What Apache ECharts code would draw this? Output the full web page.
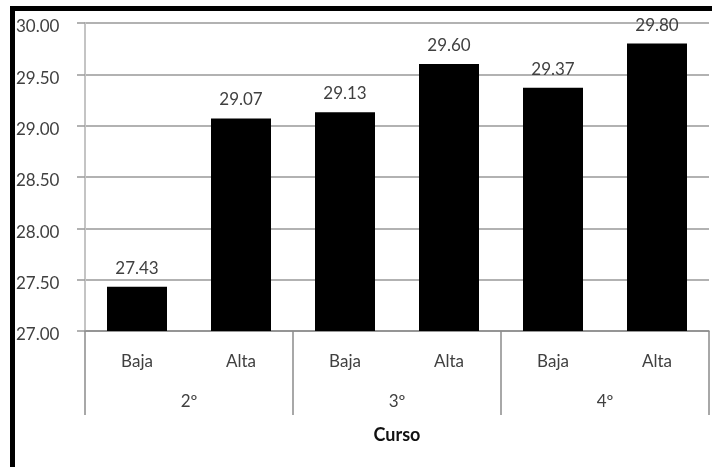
<!DOCTYPE html>
<html>
<head>
<meta charset="utf-8">
<script src="https://cdn.jsdelivr.net/npm/echarts@6/dist/echarts.min.js"></script>
<style>
  html, body { margin: 0; padding: 0; background: #fff; }
  #chart { width: 712px; height: 467px; }
</style>
</head>
<body>
<div id="chart"></div>
<script>
// Nivel de ingresos por curso
const niveles = ['Baja', 'Alta', 'Baja', 'Alta', 'Baja', 'Alta'];
const cursos = ['2º', '3º', '4º'];
const valores = [27.43, 29.07, 29.13, 29.60, 29.37, 29.80];
const yMin = 27, yMax = 30, yStep = 0.5;

const textGray = '#404040';
const font = 'Lato';

const chart = echarts.init(document.getElementById('chart'), null, { renderer: 'canvas' });

chart.setOption({
  animation: false,
  backgroundColor: '#fff',
  grid: { left: 85, right: 3, top: 23, bottom: 136, containLabel: false },
  graphic: [
    // page frame, top and left edges
    { type: 'rect', shape: { x: 10, y: 6, width: 702, height: 5 }, style: { fill: '#000' }, silent: true },
    { type: 'rect', shape: { x: 10, y: 6, width: 5, height: 461 }, style: { fill: '#000' }, silent: true }
  ],
  xAxis: [
    {
      type: 'category',
      data: niveles,
      position: 'bottom',
      axisLine: { show: true, lineStyle: { color: '#8c8c8c', width: 1.5 } },
      axisTick: { show: false },
      axisLabel: { color: textGray, fontFamily: font, fontSize: 17, margin: 22, interval: 0 },
      splitLine: { show: false }
    },
    {
      type: 'category',
      data: cursos,
      position: 'bottom',
      axisLine: { show: false },
      axisTick: { show: true, length: 84, interval: 0, lineStyle: { color: '#8c8c8c', width: 1.5 } },
      axisLabel: { color: textGray, fontFamily: font, fontSize: 17, margin: 62, interval: 0 },
      splitLine: { show: false },
      name: 'Curso',
      nameLocation: 'middle',
      nameGap: 95,
      nameTextStyle: { color: '#111', fontFamily: font, fontSize: 18, fontWeight: 'bold' }
    }
  ],
  yAxis: {
    type: 'value',
    min: yMin,
    max: yMax,
    interval: yStep,
    axisLine: { show: true, lineStyle: { color: '#c4c4c4', width: 2 } },
    axisTick: { show: true, length: 8, lineStyle: { color: '#999', width: 1.5 } },
    axisLabel: {
      color: textGray, fontFamily: font, fontSize: 17, align: 'left', margin: 69,
      verticalAlign: 'top', lineHeight: 8,
      formatter: v => v.toFixed(2)
    },
    splitLine: { show: true, lineStyle: { color: '#999', width: 1.5 } }
  },
  series: [{
    type: 'bar',
    xAxisIndex: 0,
    data: valores,
    barWidth: 60,
    itemStyle: { color: '#000' },
    label: {
      show: true,
      position: 'top',
      distance: 10,
      color: textGray,
      fontFamily: font,
      fontSize: 17,
      formatter: p => p.value.toFixed(2)
    }
  }]
});
</script>
</body>
</html>
